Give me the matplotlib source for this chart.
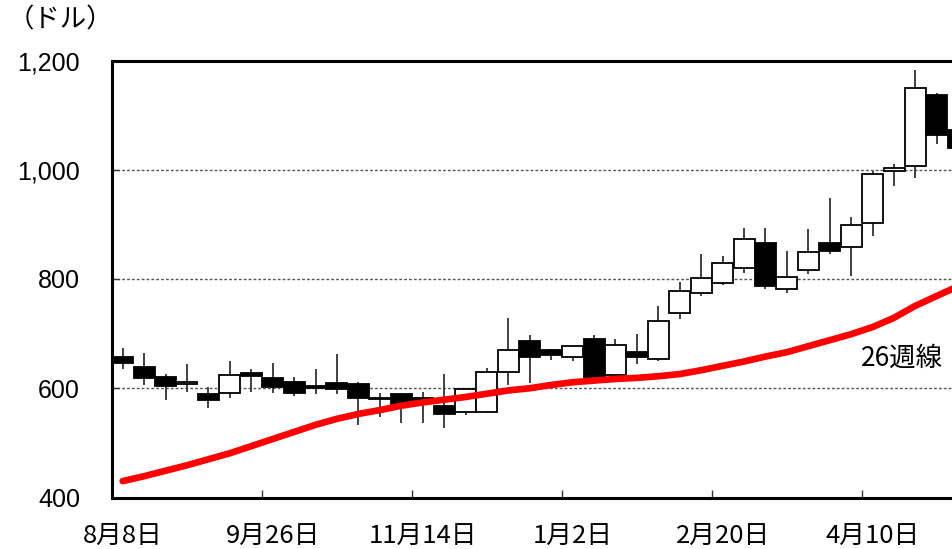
import matplotlib
matplotlib.use("Agg")
import matplotlib.pyplot as plt
import numpy as np

plt.rcParams['font.family'] = ['Noto Sans CJK JP', 'DejaVu Sans']

# weekly candles (open, high, low, close), first week = 8/8
opens = [658, 639, 620, 607, 589, 591, 628, 618, 611, 604,
         610, 607, 583, 589, 583, 568, 557, 557, 629, 687,
         670, 658, 690, 624, 667, 654, 737, 775, 792, 821,
         865, 781, 816, 865, 859, 902, 998, 1007, 1137, 1073]
highs = [673, 664, 626, 644, 602, 650, 636, 646, 620, 635,
         663, 611, 591, 591, 594, 626, 599, 637, 728, 698,
         671, 678, 698, 690, 699, 751, 794, 846, 842, 894,
         893, 852, 891, 949, 913, 998, 1010, 1183, 1140, 1078]
lows = [636, 606, 578, 594, 563, 583, 594, 591, 586, 589,
        589, 533, 548, 537, 536, 527, 551, 554, 606, 610,
        652, 650, 618, 620, 644, 650, 726, 769, 789, 811,
        781, 775, 810, 846, 805, 879, 970, 984, 1048, 1035]
closes = [647, 618, 604, 611, 579, 624, 622, 603, 592, 601,
          598, 582, 580, 572, 575, 553, 598, 629, 670, 657,
          661, 678, 620, 680, 657, 724, 778, 801, 830, 873,
          787, 804, 850, 852, 899, 992, 1004, 1150, 1064, 1040]
ma26 = [430, 439, 449, 459, 470, 481, 494, 507, 520, 533,
        544, 553, 560, 568, 574, 579, 584, 590, 596, 600,
        606, 611, 614, 617, 619, 622, 626, 633, 641, 649,
        658, 666, 677, 688, 699, 712, 729, 751, 769, 787]
tick_labels = ['8月8日', '9月26日', '11月14日', '1月2日', '2月20日', '4月10日']
yticks = [400, 600, 800, 1000, 1200]

x = np.arange(len(opens)) + 0.5

fig = plt.figure(figsize=(9.53, 5.49), dpi=100)
ax = fig.add_axes([112 / 953, 51.5 / 549, 857 / 953, 437 / 549])

ax.vlines(x, lows, highs, color='#333333', lw=1.3, zorder=2)
o = np.array(opens)
c = np.array(closes)
up = c >= o
ax.bar(x, np.abs(c - o), bottom=np.minimum(o, c), width=0.98,
       color=np.where(up, 'white', 'black'), edgecolor='black', lw=1.3, zorder=3)

ax.plot(x, ma26, color='#ff0000', lw=4.8, solid_capstyle='round', zorder=4)
ax.text(36.86, 655, '26週線', fontsize=19, ha='center', va='center', zorder=5)

ax.set_xlim(0, 40)
ax.set_ylim(400, 1200)
ax.set_yticks(yticks)
ax.set_yticklabels([f'{v:,}' for v in yticks], family=['Liberation Sans', 'DejaVu Sans'], fontsize=18)
for v in [600, 800, 1000]:
    ax.axhline(v, color='#555555', lw=1, ls=(0, (2, 1.5)), zorder=1)

ax.set_xticks(np.arange(0, 36, 7))
ax.set_xticklabels([])
ax.set_xticks(np.arange(0, 36, 7) + 0.5, minor=True)
ax.set_xticklabels(tick_labels, minor=True, fontsize=18.5)
ax.tick_params(axis='x', which='major', direction='in', length=6, width=1, color='#333333')
ax.tick_params(axis='x', which='minor', length=0, pad=18)
ax.tick_params(axis='y', direction='in', length=5, width=1, color='#333333', pad=23)

for s in ['left', 'bottom', 'top']:
    ax.spines[s].set_linewidth(2.2)
ax.spines['right'].set_visible(False)

fig.text(60 / 953, 1 - 20 / 549, '（ドル）', fontsize=19, ha='center', va='center')

fig.savefig('out.png', dpi=100)
